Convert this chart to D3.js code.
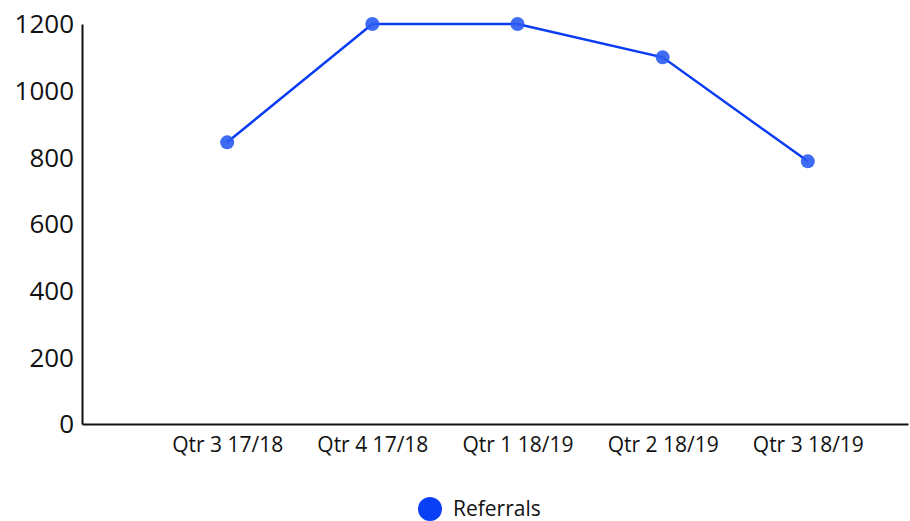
<!DOCTYPE html>
<html lang="en">
<head>
  <meta charset="UTF-8">
  <title>Referrals</title>
  <script src="https://d3js.org/d3.v7.min.js"></script>
  <style>
    body {
      margin: 0;
      background: white;
      font-family: "Open Sans", sans-serif;
    }
    text { fill: #111; }
  </style>
</head>
<body>
  <div id="chart"></div>
  <script>
    // data
    const quarters = ["Qtr 3 17/18", "Qtr 4 17/18", "Qtr 1 18/19", "Qtr 2 18/19", "Qtr 3 18/19"];
    const referrals = [845, 1200, 1200, 1100, 788];
    const yTicks = [0, 200, 400, 600, 800, 1000, 1200];
    const seriesName = "Referrals";

    const width = 910, height = 521;
    const margin = { left: 82, right: 908, top: 24, bottom: 424 };

    const svg = d3.select("#chart").append("svg")
      .attr("width", width)
      .attr("height", height);

    // first quarter sits one step in from the axis, extra room at the right end
    const x = d3.scaleLinear().domain([0, 5.69]).range([margin.left, margin.right]);
    const y = d3.scaleLinear().domain([0, 1200]).range([margin.bottom, margin.top]);

    // y axis
    const yAxis = svg.append("g")
      .attr("transform", `translate(${margin.left},0)`)
      .call(d3.axisLeft(y).tickValues(yTicks).tickFormat(d3.format("d")).tickSize(0).tickPadding(8));
    yAxis.select(".domain").attr("stroke", "#111").attr("stroke-width", 2);
    yAxis.selectAll("text")
      .style("font-family", "'Open Sans', sans-serif")
      .style("font-size", "26px")
      .attr("dy", "0.34em");

    // x axis
    const xAxis = svg.append("g")
      .attr("transform", `translate(0,${margin.bottom})`)
      .call(d3.axisBottom(x).tickValues(quarters.map((q, i) => i + 1))
        .tickFormat((d) => quarters[d - 1]).tickSize(0).tickPadding(13));
    xAxis.select(".domain").attr("stroke", "#111").attr("stroke-width", 2);
    xAxis.selectAll("text")
      .style("font-family", "'Open Sans', sans-serif")
      .style("font-size", "21px");

    const line = d3.line()
      .x((d, i) => x(i + 1))
      .y(d => y(d));

    svg.append("path")
      .datum(referrals)
      .attr("fill", "none")
      .attr("stroke", "#0a3cf5")
      .attr("stroke-width", 2.5)
      .attr("d", line);

    svg.append("g")
      .selectAll("circle")
      .data(referrals)
      .join("circle")
      .attr("cx", (d, i) => x(i + 1))
      .attr("cy", d => y(d))
      .attr("r", 7)
      .attr("fill", "#2a5cf2")
      .attr("fill-opacity", 0.9);

    // legend
    const legend = svg.append("g").attr("transform", "translate(430,509)");
    legend.append("circle").attr("r", 12).attr("fill", "#0a40f5");
    legend.append("text")
      .attr("x", 23)
      .attr("dy", "0.35em")
      .style("font-size", "21px")
      .text(seriesName);
  </script>
</body>
</html>
